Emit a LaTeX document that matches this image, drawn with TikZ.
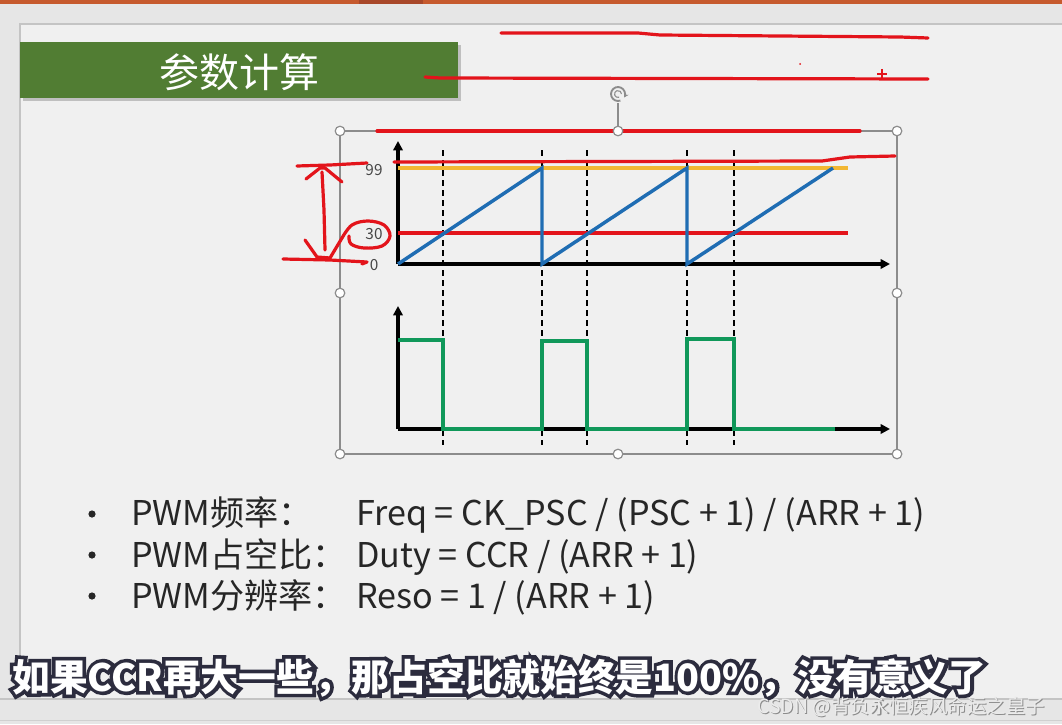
\documentclass[tikz,border=0pt]{standalone}
\usepackage{fontspec}
\setmainfont{Noto Sans CJK SC}
\newfontfamily\subolfont{Noto Sans CJK SC}[FakeBold=19, BoldFeatures={FakeBold=19}]
\usetikzlibrary{arrows.meta}
\definecolor{bggrey}{HTML}{E6E6E6}
\definecolor{slidebg}{HTML}{F0F0F0}
\definecolor{slideedge}{HTML}{C4C4C4}
\definecolor{ppor}{HTML}{C65A2E}
\definecolor{ppordark}{HTML}{A8482A}
\definecolor{titlegreen}{HTML}{517D33}
\definecolor{redpen}{HTML}{E3141B}
\definecolor{sawblue}{HTML}{1F6DB3}
\definecolor{cmpyellow}{HTML}{F2B733}
\definecolor{pwmgreen}{HTML}{10985A}
\definecolor{handlegrey}{HTML}{8C8C8C}
\definecolor{txtdark}{HTML}{262626}
\definecolor{outl}{HTML}{2C2C3E}
\newcommand\subline{如果CCR再大一些，那占空比就始终是100\%，没有意义了}
\tikzset{
  pen/.style={draw=redpen, line width=2.4pt, line cap=round, line join=round},
  axisline/.style={draw=black, line width=2.6pt, -{Triangle[length=7pt,width=7pt]}},
  guide/.style={draw=black, line width=1.1pt, dash pattern=on 4.5pt off 3pt},
  handle/.style={draw=handlegrey, fill=white, line width=0.9pt},
  bullettext/.style={anchor=base west, inner sep=0pt, text=txtdark, font=\fontsize{25.6}{25.6}\selectfont},
  axlabel/.style={inner sep=0pt, text=txtdark!85, font=\fontsize{11.5}{11.5}\selectfont}
}
\begin{document}
\begin{tikzpicture}[x=0.75pt,y=-0.75pt]
\useasboundingbox (0,0) rectangle (1062,724);
% window background
\fill[bggrey] (0,0) rectangle (1062,724);
\fill[ppor] (0,0) rectangle (1062,4);
\fill[ppordark] (359,0) rectangle (423,4);
\fill[slidebg] (20,24) rectangle (1062,699);
\draw[slideedge, line width=0.9pt] (20,699) -- (20,24) -- (1062,24);
\draw[slideedge, line width=0.9pt] (0,699) -- (1062,699);
\draw[slideedge!80, line width=0.6pt] (0,720) -- (1062,720);
% title box
\fill[black!25] (23,45) rectangle (461,101);
\fill[titlegreen] (20,42) rectangle (458,98);
\node[text=white, inner sep=0pt, font=\fontsize{30}{30}\selectfont] (title) at (239,72) {参数计算};
% red pen strokes at top
\draw[pen] (501,33) -- (638,33) -- (660,35) -- (900,37) -- (928,38);
\draw[pen] (425,77) -- (440,78) -- (928,79);
\draw[redpen, line width=1.2pt] (877,74) -- (887,74) (882,69) -- (882,79);
\fill[redpen] (800,64) circle[radius=1];
% selection frame
\draw[handlegrey, line width=0.9pt] (340,131) rectangle (897,454);
\draw[handlegrey, line width=0.9pt] (618,103) -- (618,131);
\draw[handlegrey, line width=1.4pt, -{Stealth[length=3.5pt,width=4pt]}] (618,94) ++(70:7) arc[start angle=70, end angle=390, radius=7];
\draw[handlegrey, line width=0.8pt] (618,94) ++(70:3.5) arc[start angle=70, end angle=360, radius=3.5];
\draw[pen] (377,131) -- (860,131);
\foreach \p in {(340,131),(618,131),(897,131),(340,293),(897,293),(340,454),(618,454),(897,454)}
  \draw[handle] \p circle[radius=4.8];
% guides
\foreach \gx in {443,542,587,687,734}
  \draw[guide] (\gx,150) -- (\gx,445);
% upper chart
\coordinate (o1) at (398,264);
\draw[axisline] (o1) -- (398,141);
\draw[axisline] (o1) -- (890,264);
\draw[cmpyellow, line width=3.2pt] (398,168) -- (848,168);
\draw[pen] (394,162) -- (822,161) -- (850,157) -- (895,156);
\draw[redpen, line width=2.6pt] (398,233) -- (848,233);
\draw[sawblue, line width=2.6pt, line join=miter] (o1) -- (542,168) -- (542,264) -- (687,168) -- (687,264) -- (833,168);
\node[axlabel] (l99) at (374,170) {99};
\node[axlabel] (l30) at (374,234) {30};
\node[axlabel] (l0) at (374,265) {0};
% lower chart
\coordinate (o2) at (398,429);
\draw[axisline] (o2) -- (398,306);
\draw[axisline] (o2) -- (890,429);
\draw[pwmgreen, line width=2.8pt, line join=miter] (398,340) -- (443,340) -- (443,429) -- (542,429) -- (542,341) -- (587,341) -- (587,429) -- (687,429) -- (687,339) -- (734,339) -- (734,429) -- (835,429);
% hand annotations on the left
\draw[pen] (297,166) -- (330,165) -- (367,163);
\draw[pen] (306,179) -- (320,168) -- (325,168) -- (342,182);
\draw[pen] (322,172) -- (324,210) -- (325,250);
\draw[pen] (305,240) -- (317,257) -- (330,258) -- (342,238);
\draw[pen] plot[smooth, tension=0.6] coordinates {(342,238) (352,225) (368,221) (384,225) (390,236) (382,246) (364,248) (351,244) (349,236)};
\draw[pen] (283,259) -- (330,260) -- (367,262) -- (362,264);
% bullets
\foreach \by in {514,555,596} \fill[txtdark] (92,\by) circle[radius=3.6];
\node[bullettext] (b1) at (131,525) {PWM频率：};
\node[bullettext] (f1) at (356,525) {Freq = CK\_PSC / (PSC + 1) / (ARR + 1)};
\node[bullettext] (b2) at (131,567) {PWM占空比：};
\node[bullettext] (f2) at (356,567) {Duty = CCR / (ARR + 1)};
\node[bullettext] (b3) at (131,608) {PWM分辨率：};
\node[bullettext] (f3) at (356,608) {Reso = 1 / (ARR + 1)};
% subtitle with outline: emboldened dark copy under white text
\node[anchor=base west, inner sep=0pt, font=\subolfont\bfseries\fontsize{28.3}{28.3}\selectfont] (subt) at (12,691) {\makebox[0pt][l]{\textcolor{outl}{\subline}}\textcolor{white}{\normalfont\bfseries\fontsize{28.3}{28.3}\selectfont\subline}};
% watermark
\node[anchor=base west, inner sep=0pt, font=\fontsize{14.6}{14.6}\selectfont] (wm) at (757,713) {\makebox[0pt][l]{\kern0.8pt\raisebox{-0.8pt}{\textcolor{black!45}{CSDN @背负永恒疾风命运之皇子}}}\textcolor{white!92!black}{CSDN @背负永恒疾风命运之皇子}};
\end{tikzpicture}
\end{document}
